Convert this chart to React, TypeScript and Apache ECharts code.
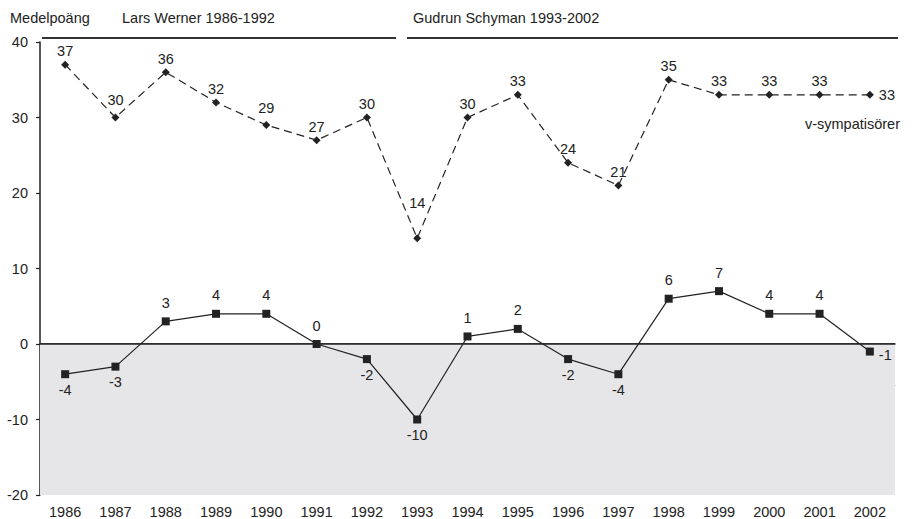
import React, { useEffect, useRef } from "react";
import * as echarts from "echarts";

const years = ["1986","1987","1988","1989","1990","1991","1992","1993","1994","1995","1996","1997","1998","1999","2000","2001","2002"];
const vSympatisorer = [37,30,36,32,29,27,30,14,30,33,24,21,35,33,33,33,33];
const samtliga = [-4,-3,3,4,4,0,-2,-10,1,2,-2,-4,6,7,4,4,-1];
const yTicks = { min: -20, max: 40, interval: 10 };
const FONT = "'Liberation Sans', Arial, Helvetica, sans-serif";
const INK = "#222222";
const FS = 14.5;

export default function App() {
  const ref = useRef<HTMLDivElement>(null);
  useEffect(() => {
    if (!ref.current) return;
    const chart = echarts.init(ref.current, null, { renderer: "svg" });
    const last = years.length - 1;
    const vDist = (i: number) => (years[i] === "1993" ? 24 : years[i] === "1987" || years[i] === "1990" ? 6 : 2);
    chart.setOption({
      animation: false,
      backgroundColor: "#ffffff",
      textStyle: { fontFamily: FONT, color: INK },
      grid: { left: 40, right: 20, top: 42, bottom: 22 },
      xAxis: {
        type: "category",
        data: years,
        boundaryGap: true,
        axisLine: { show: true, lineStyle: { color: INK, width: 1.5 } },
        axisTick: { show: false },
        axisLabel: { color: INK, fontSize: FS, fontFamily: FONT, margin: 9 },
        splitLine: { show: false },
      },
      yAxis: {
        type: "value",
        min: yTicks.min,
        max: yTicks.max,
        interval: yTicks.interval,
        axisLine: { show: true, lineStyle: { color: INK, width: 1.5 } },
        axisTick: { show: true, length: 4, lineStyle: { color: INK, width: 1.2 } },
        axisLabel: { color: INK, fontSize: FS, fontFamily: FONT, margin: 12 },
        splitLine: { show: false },
      },
      graphic: [
        { type: "text", x: 10, y: 18, style: { text: "Medelpoäng", font: `${FS}px ${FONT}`, fill: INK, verticalAlign: "middle" } },
        { type: "text", x: 122, y: 18, style: { text: "Lars Werner 1986-1992", font: `${FS}px ${FONT}`, fill: INK, verticalAlign: "middle" } },
        { type: "text", x: 413, y: 18, style: { text: "Gudrun Schyman 1993-2002", font: `${FS}px ${FONT}`, fill: INK, verticalAlign: "middle" } },
        { type: "line", shape: { x1: 42, y1: 38, x2: 396, y2: 38 }, style: { stroke: "#333", lineWidth: 2 } },
        { type: "line", shape: { x1: 407, y1: 38, x2: 898, y2: 38 }, style: { stroke: "#333", lineWidth: 2 } },
        { type: "text", x: 900, y: 124, style: { text: "v-sympatisörer", font: `${FS}px ${FONT}`, fill: INK, align: "right", verticalAlign: "middle" } },
        { type: "text", x: 895, y: 381, style: { text: "samtliga", font: `${FS}px ${FONT}`, fill: INK, align: "right", verticalAlign: "middle" } },
      ],
      series: [
        {
          name: "v-sympatisörer",
          type: "line",
          data: vSympatisorer.map((v, i) =>
            i === last
              ? { value: v, label: { position: "right", distance: 5 } }
              : { value: v, label: { position: "top", distance: vDist(i) } }
          ),
          symbol: "diamond",
          symbolSize: 8,
          itemStyle: { color: INK },
          lineStyle: { color: INK, width: 1.2, type: [8, 5] },
          label: { show: true, position: "top", distance: 2, color: INK, fontSize: FS, fontFamily: FONT },
          z: 3,
        },
        {
          name: "samtliga",
          type: "line",
          data: samtliga.map((v, i) =>
            i === last
              ? { value: v, label: { position: "right", distance: 5, offset: [0, 3] } }
              : v < 0
              ? { value: v, label: { position: "bottom", distance: 4 } }
              : v
          ),
          symbol: "rect",
          symbolSize: 8,
          itemStyle: { color: INK },
          lineStyle: { color: INK, width: 1.2 },
          label: { show: true, position: "top", distance: 7, color: INK, fontSize: FS, fontFamily: FONT },
          markArea: {
            silent: true,
            itemStyle: { color: "#e6e6e8" },
            data: [[{ yAxis: -20 }, { yAxis: 0 }]],
          },
          markLine: {
            silent: true,
            symbol: "none",
            label: { show: false },
            lineStyle: { color: INK, width: 1.5, type: "solid" },
            data: [{ yAxis: 0 }],
          },
          z: 3,
        },
      ],
    });
    return () => chart.dispose();
  }, []);
  return (
    <div
      ref={ref}
      style={{ position: "fixed", left: 0, top: 0, width: 915, height: 519 }}
    />
  );
}
